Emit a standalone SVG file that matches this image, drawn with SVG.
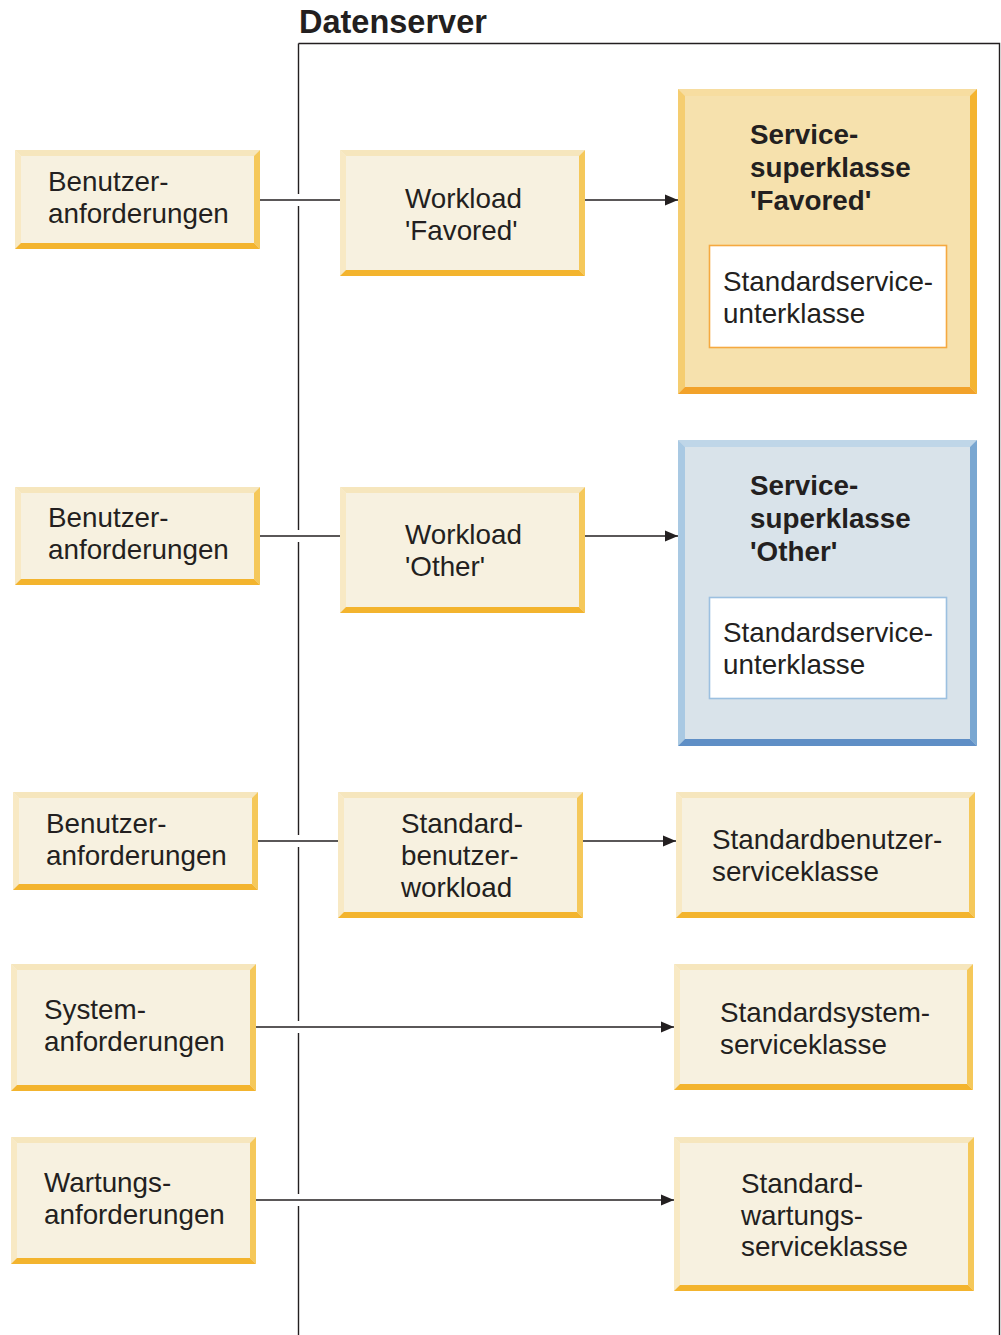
<svg xmlns="http://www.w3.org/2000/svg" width="1001" height="1335" viewBox="0 0 1001 1335">
<style>
text{font-family:"Liberation Sans",Arial,sans-serif;font-size:27.8px;fill:#231f20}
.b{font-weight:bold}
.title{font-size:32.5px;font-weight:bold}
.yf{fill:#f7f1e0}.yt{fill:#f6e6bd}.yl{fill:#f8e9c4}.yr{fill:#f5c85a}.yb{fill:#f3b42e}
.ff{fill:#f6e1ad}.ft{fill:#f7dda0}.fl{fill:#f5cd70}.fr{fill:#f4b430}.fb{fill:#f2a22a}
.of{fill:#d9e3ea}.ot{fill:#bfd6e8}.ol{fill:#a9c9e3}.or{fill:#7aa7d1}.ob{fill:#5f8fc6}
.line{stroke:#231f20;stroke-width:1.6;fill:none}
.frame{stroke:#231f20;stroke-width:1.4;fill:none}
</style>
<defs>
<marker id="arr" markerUnits="userSpaceOnUse" markerWidth="14" markerHeight="13" refX="13" refY="6.5" orient="auto">
<path d="M0,1 L13,6.5 L0,12 z" fill="#231f20"/>
</marker>
</defs>

<g id="datenserver">
<text class="title" x="299" y="33">Datenserver</text>
<path class="frame" d="M298.5,43.5 H999.5 V1335"/>
<path class="frame" d="M298.5,43.5 V194 M298.5,206 V530 M298.5,542 V835 M298.5,847 V1021 M298.5,1033 V1194 M298.5,1206 V1335"/>
</g>

<g id="connectors">
<line class="line" x1="260" y1="200" x2="340" y2="200"/>
<line class="line" x1="585" y1="200" x2="678" y2="200" marker-end="url(#arr)"/>
<line class="line" x1="260" y1="536" x2="340" y2="536"/>
<line class="line" x1="585" y1="536" x2="678" y2="536" marker-end="url(#arr)"/>
<line class="line" x1="258" y1="841" x2="338" y2="841"/>
<line class="line" x1="583" y1="841" x2="676" y2="841" marker-end="url(#arr)"/>
<line class="line" x1="256" y1="1027" x2="674" y2="1027" marker-end="url(#arr)"/>
<line class="line" x1="256" y1="1200" x2="674" y2="1200" marker-end="url(#arr)"/>
</g>

<g id="n_ben1">
<rect class="yf" x="15" y="150" width="245" height="99"/>
<polygon class="yt" points="15,150 260,150 254,156 21,156"/>
<polygon class="yl" points="15,150 21,156 21,243 15,249"/>
<polygon class="yr" points="260,150 260,249 254,243 254,156"/>
<polygon class="yb" points="15,249 260,249 254,243 21,243"/>
<text x="48" y="191">Benutzer-</text>
<text x="48" y="223">anforderungen</text>
</g>

<g id="n_wlfav">
<rect class="yf" x="340" y="150" width="245" height="126"/>
<polygon class="yt" points="340,150 585,150 579,156 346,156"/>
<polygon class="yl" points="340,150 346,156 346,270 340,276"/>
<polygon class="yr" points="585,150 585,276 579,270 579,156"/>
<polygon class="yb" points="340,276 585,276 579,270 346,270"/>
<text x="405" y="208">Workload</text>
<text x="405" y="240">'Favored'</text>
</g>

<g id="n_scfav">
<rect class="ff" x="678" y="89" width="299" height="305"/>
<polygon class="ft" points="678,89 977,89 970,96 685,96"/>
<polygon class="fl" points="678,89 685,96 685,387 678,394"/>
<polygon class="fr" points="977,89 977,394 970,387 970,96"/>
<polygon class="fb" points="678,394 977,394 970,387 685,387"/>
<text class="b" x="750" y="144">Service-</text>
<text class="b" x="750" y="177">superklasse</text>
<text class="b" x="750" y="210">'Favored'</text>
<g id="n_subfav">
<rect x="709.5" y="245.5" width="237" height="102" fill="#ffffff" stroke="#f5a940" stroke-width="1.6"/>
<text x="723" y="291">Standardservice-</text>
<text x="723" y="323">unterklasse</text>
</g>
</g>

<g id="n_ben2">
<rect class="yf" x="15" y="487" width="245" height="98"/>
<polygon class="yt" points="15,487 260,487 254,493 21,493"/>
<polygon class="yl" points="15,487 21,493 21,579 15,585"/>
<polygon class="yr" points="260,487 260,585 254,579 254,493"/>
<polygon class="yb" points="15,585 260,585 254,579 21,579"/>
<text x="48" y="527">Benutzer-</text>
<text x="48" y="559">anforderungen</text>
</g>

<g id="n_wlother">
<rect class="yf" x="340" y="487" width="245" height="126"/>
<polygon class="yt" points="340,487 585,487 579,493 346,493"/>
<polygon class="yl" points="340,487 346,493 346,607 340,613"/>
<polygon class="yr" points="585,487 585,613 579,607 579,493"/>
<polygon class="yb" points="340,613 585,613 579,607 346,607"/>
<text x="405" y="544">Workload</text>
<text x="405" y="576">'Other'</text>
</g>

<g id="n_scother">
<rect class="of" x="678" y="440" width="299" height="306"/>
<polygon class="ot" points="678,440 977,440 970,447 685,447"/>
<polygon class="ol" points="678,440 685,447 685,739 678,746"/>
<polygon class="or" points="977,440 977,746 970,739 970,447"/>
<polygon class="ob" points="678,746 977,746 970,739 685,739"/>
<text class="b" x="750" y="495">Service-</text>
<text class="b" x="750" y="528">superklasse</text>
<text class="b" x="750" y="561">'Other'</text>
<g id="n_subother">
<rect x="709.5" y="597.5" width="237" height="101" fill="#ffffff" stroke="#9cc0e0" stroke-width="1.6"/>
<text x="723" y="642">Standardservice-</text>
<text x="723" y="674">unterklasse</text>
</g>
</g>

<g id="n_ben3">
<rect class="yf" x="13" y="792" width="245" height="98"/>
<polygon class="yt" points="13,792 258,792 252,798 19,798"/>
<polygon class="yl" points="13,792 19,798 19,884 13,890"/>
<polygon class="yr" points="258,792 258,890 252,884 252,798"/>
<polygon class="yb" points="13,890 258,890 252,884 19,884"/>
<text x="46" y="833">Benutzer-</text>
<text x="46" y="865">anforderungen</text>
</g>

<g id="n_stdwl">
<rect class="yf" x="338" y="792" width="245" height="126"/>
<polygon class="yt" points="338,792 583,792 577,798 344,798"/>
<polygon class="yl" points="338,792 344,798 344,912 338,918"/>
<polygon class="yr" points="583,792 583,918 577,912 577,798"/>
<polygon class="yb" points="338,918 583,918 577,912 344,912"/>
<text x="401" y="833">Standard-</text>
<text x="401" y="865">benutzer-</text>
<text x="401" y="897">workload</text>
</g>

<g id="n_stdbensc">
<rect class="yf" x="676" y="792" width="299" height="126"/>
<polygon class="yt" points="676,792 975,792 969,798 682,798"/>
<polygon class="yl" points="676,792 682,798 682,912 676,918"/>
<polygon class="yr" points="975,792 975,918 969,912 969,798"/>
<polygon class="yb" points="676,918 975,918 969,912 682,912"/>
<text x="712" y="849">Standardbenutzer-</text>
<text x="712" y="881">serviceklasse</text>
</g>

<g id="n_sys">
<rect class="yf" x="11" y="964" width="245" height="127"/>
<polygon class="yt" points="11,964 256,964 250,970 17,970"/>
<polygon class="yl" points="11,964 17,970 17,1085 11,1091"/>
<polygon class="yr" points="256,964 256,1091 250,1085 250,970"/>
<polygon class="yb" points="11,1091 256,1091 250,1085 17,1085"/>
<text x="44" y="1019">System-</text>
<text x="44" y="1051">anforderungen</text>
</g>

<g id="n_stdsys">
<rect class="yf" x="674" y="964" width="299" height="126"/>
<polygon class="yt" points="674,964 973,964 967,970 680,970"/>
<polygon class="yl" points="674,964 680,970 680,1084 674,1090"/>
<polygon class="yr" points="973,964 973,1090 967,1084 967,970"/>
<polygon class="yb" points="674,1090 973,1090 967,1084 680,1084"/>
<text x="720" y="1022">Standardsystem-</text>
<text x="720" y="1054">serviceklasse</text>
</g>

<g id="n_wart">
<rect class="yf" x="11" y="1137" width="245" height="127"/>
<polygon class="yt" points="11,1137 256,1137 250,1143 17,1143"/>
<polygon class="yl" points="11,1137 17,1143 17,1258 11,1264"/>
<polygon class="yr" points="256,1137 256,1264 250,1258 250,1143"/>
<polygon class="yb" points="11,1264 256,1264 250,1258 17,1258"/>
<text x="44" y="1192">Wartungs-</text>
<text x="44" y="1224">anforderungen</text>
</g>

<g id="n_stdwart">
<rect class="yf" x="674" y="1137" width="300" height="154"/>
<polygon class="yt" points="674,1137 974,1137 968,1143 680,1143"/>
<polygon class="yl" points="674,1137 680,1143 680,1285 674,1291"/>
<polygon class="yr" points="974,1137 974,1291 968,1285 968,1143"/>
<polygon class="yb" points="674,1291 974,1291 968,1285 680,1285"/>
<text x="741" y="1193">Standard-</text>
<text x="741" y="1225">wartungs-</text>
<text x="741" y="1256">serviceklasse</text>
</g>
</svg>
